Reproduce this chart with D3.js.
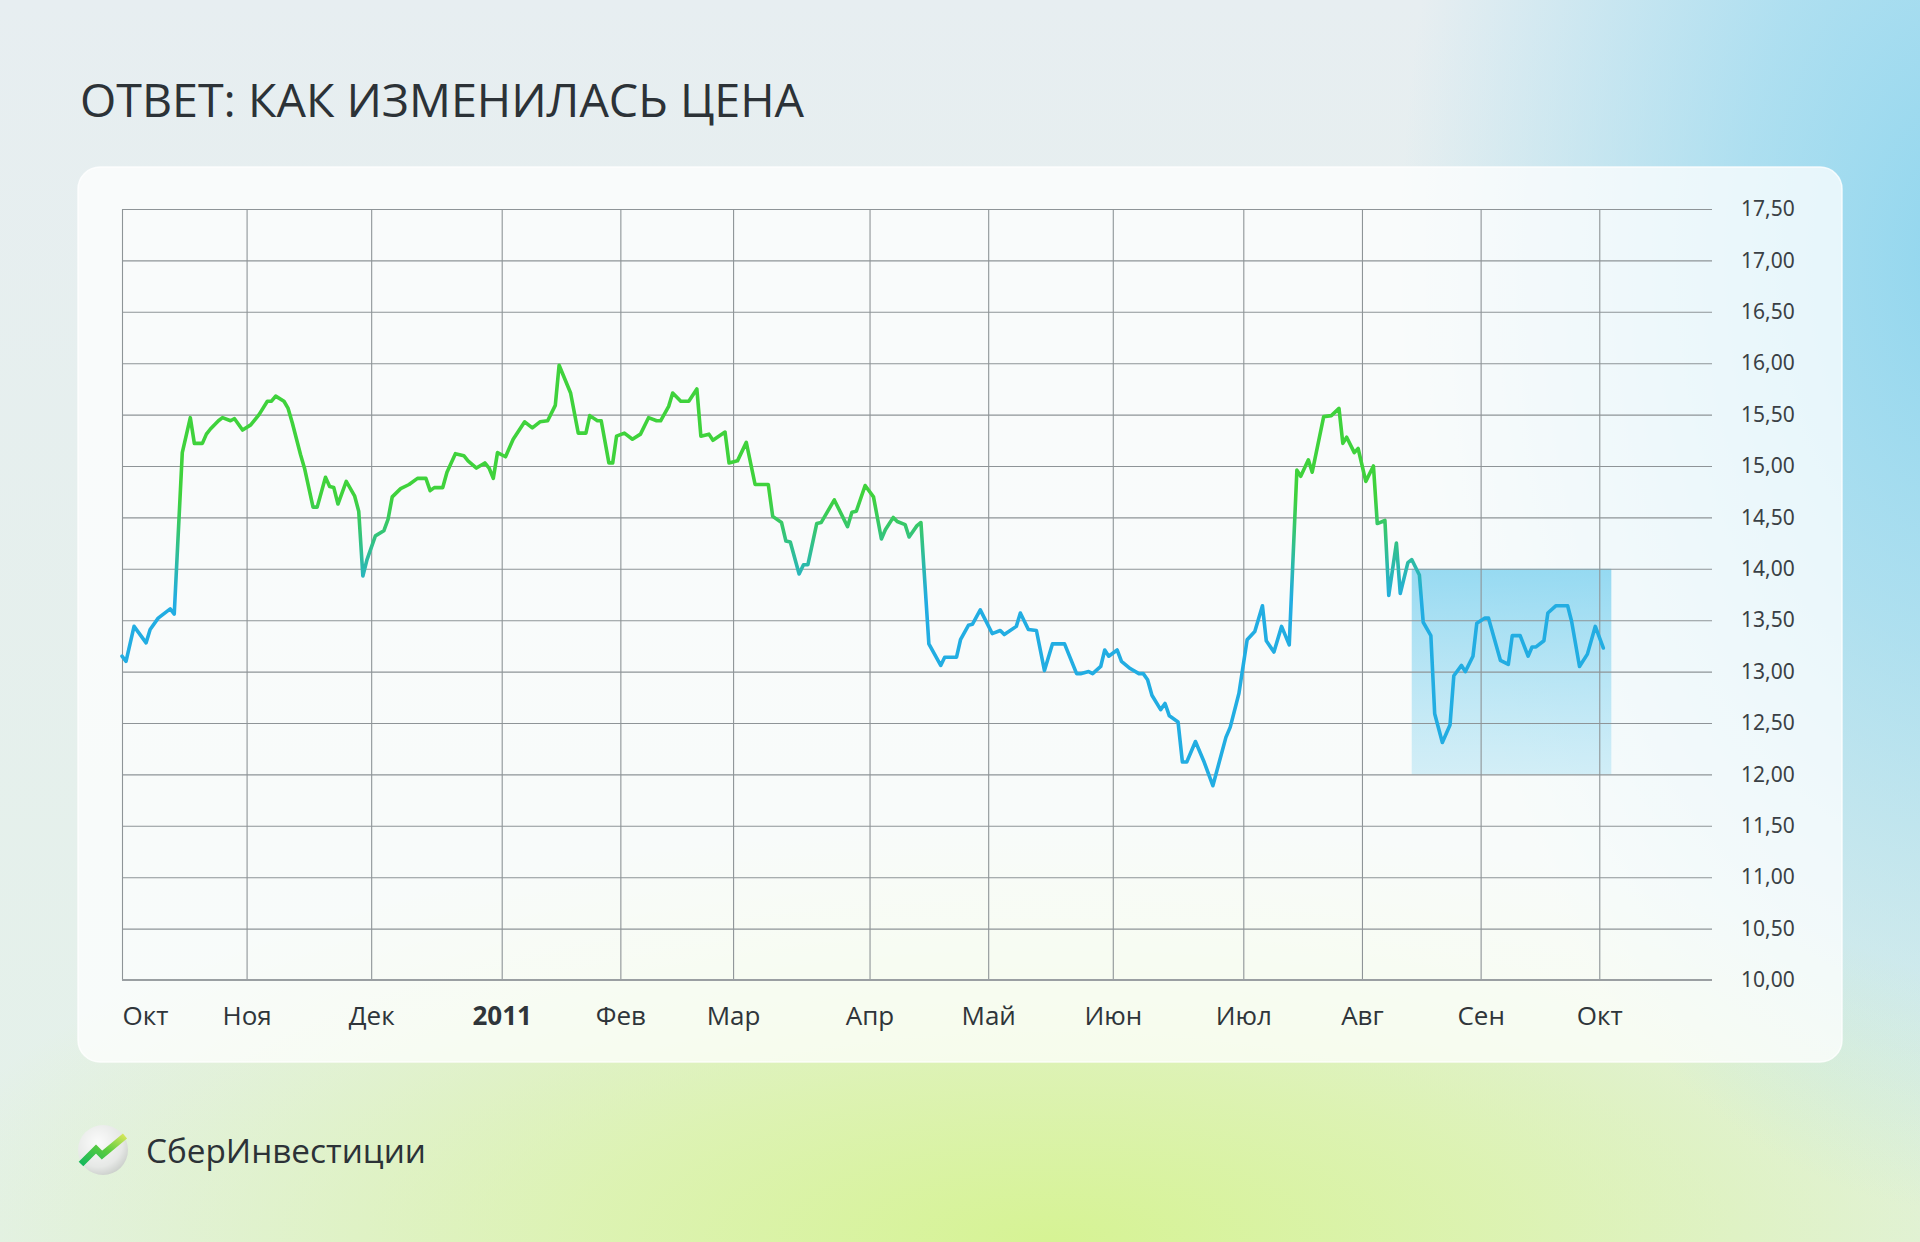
<!DOCTYPE html>
<html>
<head>
<meta charset="utf-8">
<script src="https://cdn.jsdelivr.net/npm/d3@7"></script>
<style>
html, body { margin: 0; padding: 0; width: 1920px; height: 1242px; overflow: hidden; }
body {
  background:
    radial-gradient(ellipse 560px 950px at 1960px 260px, rgba(145,214,238,1) 0%, rgba(155,218,240,0.75) 40%, rgba(170,225,240,0) 100%),
    radial-gradient(ellipse 1150px 420px at 1050px 1242px, rgba(214,243,148,1) 0%, rgba(218,243,160,0.75) 40%, rgba(220,243,170,0) 100%),
    linear-gradient(180deg, #e7eef1 0%, #e4f1e9 100%);
  font-family: "Open Sans", "Noto Sans", sans-serif;
}
svg { position: absolute; left: 0; top: 0; }
</style>
</head>
<body>
<svg id="chart" width="1920" height="1242"></svg>
<script>
// daily closes: [date, price]
var closes = [
  ["2010-10-01", 13.15], ["2010-10-02", 13.10], ["2010-10-04", 13.44], ["2010-10-07", 13.28],
  ["2010-10-08", 13.41], ["2010-10-10", 13.52], ["2010-10-13", 13.61], ["2010-10-14", 13.56],
  ["2010-10-16", 15.13], ["2010-10-18", 15.47], ["2010-10-19", 15.22], ["2010-10-21", 15.22],
  ["2010-10-22", 15.31], ["2010-10-23", 15.36], ["2010-10-25", 15.44], ["2010-10-26", 15.47],
  ["2010-10-28", 15.44], ["2010-10-29", 15.46], ["2010-10-31", 15.35], ["2010-11-02", 15.40],
  ["2010-11-04", 15.50], ["2010-11-06", 15.63], ["2010-11-07", 15.63], ["2010-11-08", 15.68],
  ["2010-11-10", 15.63], ["2010-11-11", 15.56], ["2010-11-12", 15.42], ["2010-11-14", 15.11],
  ["2010-11-15", 14.97], ["2010-11-17", 14.60], ["2010-11-18", 14.60], ["2010-11-20", 14.89],
  ["2010-11-21", 14.80], ["2010-11-22", 14.79], ["2010-11-23", 14.63], ["2010-11-25", 14.85],
  ["2010-11-27", 14.71], ["2010-11-28", 14.56], ["2010-11-29", 13.93], ["2010-11-30", 14.09],
  ["2010-12-02", 14.32], ["2010-12-04", 14.37], ["2010-12-05", 14.48], ["2010-12-06", 14.70],
  ["2010-12-08", 14.78], ["2010-12-10", 14.82], ["2010-12-12", 14.88], ["2010-12-14", 14.88],
  ["2010-12-15", 14.76], ["2010-12-16", 14.79], ["2010-12-18", 14.79], ["2010-12-19", 14.94],
  ["2010-12-21", 15.12], ["2010-12-23", 15.10], ["2010-12-24", 15.05], ["2010-12-26", 14.98],
  ["2010-12-28", 15.03], ["2010-12-29", 14.98], ["2010-12-30", 14.88], ["2010-12-31", 15.13],
  ["2011-01-02", 15.09], ["2011-01-04", 15.26], ["2011-01-07", 15.43], ["2011-01-09", 15.37],
  ["2011-01-11", 15.43], ["2011-01-13", 15.44], ["2011-01-15", 15.59], ["2011-01-16", 15.98],
  ["2011-01-19", 15.71], ["2011-01-21", 15.32], ["2011-01-23", 15.32], ["2011-01-24", 15.49],
  ["2011-01-26", 15.44], ["2011-01-27", 15.44], ["2011-01-29", 15.03], ["2011-01-30", 15.03],
  ["2011-01-31", 15.29], ["2011-02-02", 15.32], ["2011-02-04", 15.26], ["2011-02-06", 15.31],
  ["2011-02-08", 15.47], ["2011-02-10", 15.44], ["2011-02-11", 15.44], ["2011-02-13", 15.58],
  ["2011-02-14", 15.71], ["2011-02-16", 15.63], ["2011-02-18", 15.63], ["2011-02-20", 15.75],
  ["2011-02-21", 15.29], ["2011-02-23", 15.31], ["2011-02-24", 15.25], ["2011-02-27", 15.33],
  ["2011-02-28", 15.03], ["2011-03-02", 15.05], ["2011-03-04", 15.23], ["2011-03-06", 14.82],
  ["2011-03-09", 14.82], ["2011-03-10", 14.51], ["2011-03-12", 14.45], ["2011-03-13", 14.27],
  ["2011-03-14", 14.26], ["2011-03-16", 13.95], ["2011-03-17", 14.04], ["2011-03-18", 14.04],
  ["2011-03-20", 14.44], ["2011-03-21", 14.45], ["2011-03-24", 14.67], ["2011-03-27", 14.41],
  ["2011-03-28", 14.55], ["2011-03-29", 14.56], ["2011-03-31", 14.81], ["2011-04-02", 14.70],
  ["2011-04-04", 14.29], ["2011-04-05", 14.38], ["2011-04-07", 14.50], ["2011-04-08", 14.46],
  ["2011-04-10", 14.43], ["2011-04-11", 14.31], ["2011-04-13", 14.42], ["2011-04-14", 14.45],
  ["2011-04-16", 13.27], ["2011-04-19", 13.06], ["2011-04-20", 13.14], ["2011-04-23", 13.14],
  ["2011-04-24", 13.31], ["2011-04-26", 13.45], ["2011-04-27", 13.46], ["2011-04-29", 13.60],
  ["2011-05-02", 13.37], ["2011-05-04", 13.40], ["2011-05-05", 13.36], ["2011-05-08", 13.44],
  ["2011-05-09", 13.57], ["2011-05-11", 13.41], ["2011-05-13", 13.40], ["2011-05-15", 13.01],
  ["2011-05-17", 13.27], ["2011-05-20", 13.27], ["2011-05-23", 12.98], ["2011-05-24", 12.98],
  ["2011-05-26", 13.00], ["2011-05-27", 12.98], ["2011-05-29", 13.05], ["2011-05-30", 13.21],
  ["2011-05-31", 13.15], ["2011-06-02", 13.21], ["2011-06-03", 13.10], ["2011-06-05", 13.03],
  ["2011-06-07", 12.98], ["2011-06-08", 12.98], ["2011-06-09", 12.92], ["2011-06-10", 12.77],
  ["2011-06-12", 12.63], ["2011-06-13", 12.69], ["2011-06-14", 12.57], ["2011-06-16", 12.51],
  ["2011-06-17", 12.12], ["2011-06-18", 12.12], ["2011-06-20", 12.32], ["2011-06-22", 12.12],
  ["2011-06-24", 11.89], ["2011-06-27", 12.36], ["2011-06-28", 12.46], ["2011-06-30", 12.79],
  ["2011-07-02", 13.31], ["2011-07-04", 13.39], ["2011-07-06", 13.64], ["2011-07-07", 13.30],
  ["2011-07-09", 13.19], ["2011-07-11", 13.44], ["2011-07-13", 13.26], ["2011-07-15", 14.96],
  ["2011-07-16", 14.90], ["2011-07-18", 15.06], ["2011-07-19", 14.94], ["2011-07-22", 15.48],
  ["2011-07-24", 15.49], ["2011-07-26", 15.56], ["2011-07-27", 15.22], ["2011-07-28", 15.28],
  ["2011-07-30", 15.13], ["2011-07-31", 15.17], ["2011-08-02", 14.85], ["2011-08-04", 15.00],
  ["2011-08-05", 14.44], ["2011-08-07", 14.47], ["2011-08-08", 13.74], ["2011-08-10", 14.25],
  ["2011-08-11", 13.76], ["2011-08-13", 14.06], ["2011-08-14", 14.09], ["2011-08-16", 13.94],
  ["2011-08-17", 13.48], ["2011-08-19", 13.35], ["2011-08-20", 12.59], ["2011-08-22", 12.31],
  ["2011-08-24", 12.48], ["2011-08-25", 12.96], ["2011-08-27", 13.06], ["2011-08-28", 13.00],
  ["2011-08-30", 13.15], ["2011-08-31", 13.47], ["2011-09-02", 13.52], ["2011-09-03", 13.52],
  ["2011-09-06", 13.11], ["2011-09-08", 13.07], ["2011-09-09", 13.35], ["2011-09-11", 13.35],
  ["2011-09-13", 13.15], ["2011-09-14", 13.24], ["2011-09-15", 13.24], ["2011-09-17", 13.30],
  ["2011-09-18", 13.57], ["2011-09-20", 13.64], ["2011-09-23", 13.64], ["2011-09-24", 13.49],
  ["2011-09-26", 13.05], ["2011-09-28", 13.17], ["2011-09-30", 13.44], ["2011-10-02", 13.23]
];

// months on the axis and the trading sessions plotted in each (the axis runs on sessions)
var monthLabels = ["Окт", "Ноя", "Дек", "2011", "Фев", "Мар", "Апр", "Май", "Июн", "Июл", "Авг", "Сен", "Окт"];
var monthSessions = [21, 21, 22, 20, 19, 23, 20, 21, 22, 20, 20, 20, 21];
var totalSessions = 268;
var yTicks = [10, 10.5, 11, 11.5, 12, 12.5, 13, 13.5, 14, 14.5, 15, 15.5, 16, 16.5, 17, 17.5];
// shaded box: dates and price band
var boxDates = ["2011-08-14", "2011-10-04"];
var boxPrices = [12, 14];

var title = "ОТВЕТ: КАК ИЗМЕНИЛАСЬ ЦЕНА";
var brand = "СберИнвестиции";

var parse = d3.timeParse("%Y-%m-%d");
var data = closes.map(function (d) { return { date: parse(d[0]), price: d[1] }; });

var ru = d3.formatLocale({ decimal: ",", thousands: " ", grouping: [3], currency: ["", " ₽"] });
var fmt = ru.format(".2f");

var svg = d3.select("#chart");
var defs = svg.append("defs");

var plotLeft = 122, plotRight = 1712, plotTop = 209, plotBottom = 980;

// session index -> pixels, then month boundaries -> sessions
var s = d3.scaleLinear().domain([0, totalSessions]).range([plotLeft, plotRight]);
var monthEdges = d3.timeMonth.range(parse("2010-10-01"), parse("2011-11-02"));
var cum = [0];
monthSessions.forEach(function (n, i) { cum.push(cum[i] + n); });

var x = d3.scaleTime()
    .domain(monthEdges)
    .range(cum.map(s));
var y = d3.scaleLinear()
    .domain([10, 17.5])
    .range([plotBottom, plotTop]);

// panel
svg.append("rect")
    .attr("x", 78).attr("y", 167)
    .attr("width", 1764).attr("height", 895)
    .attr("rx", 22)
    .attr("fill", "rgba(255,255,255,0.74)")
    .attr("stroke", "rgba(255,255,255,0.8)")
    .attr("stroke-width", 1.5);

// title
svg.append("text")
    .attr("x", 80).attr("y", 117)
    .attr("font-family", "'Open Sans', 'Noto Sans', sans-serif")
    .attr("font-size", 46)
    .attr("fill", "#2c3237")
    .attr("textLength", 724)
    .attr("lengthAdjust", "spacingAndGlyphs")
    .text(title);

// highlight box
var boxGrad = defs.append("linearGradient")
    .attr("id", "boxGrad").attr("x1", 0).attr("y1", 0).attr("x2", 0).attr("y2", 1);
boxGrad.append("stop").attr("offset", "0%").attr("stop-color", "#5cc6ec").attr("stop-opacity", 0.62);
boxGrad.append("stop").attr("offset", "100%").attr("stop-color", "#8dd6f0").attr("stop-opacity", 0.35);

svg.append("rect")
    .attr("x", x(parse(boxDates[0])))
    .attr("y", y(boxPrices[1]))
    .attr("width", x(parse(boxDates[1])) - x(parse(boxDates[0])))
    .attr("height", y(boxPrices[0]) - y(boxPrices[1]))
    .attr("fill", "url(#boxGrad)");

// horizontal grid + price labels
var yAxis = d3.axisRight(y)
    .tickValues(yTicks)
    .tickSize(plotRight - plotLeft)
    .tickPadding(29)
    .tickFormat(fmt);

var gy = svg.append("g")
    .attr("transform", "translate(" + plotLeft + ",0)")
    .call(yAxis);
gy.select(".domain").remove();
gy.selectAll(".tick line")
    .attr("stroke", "#8e9497")
    .attr("stroke-width", 1.1);
gy.selectAll(".tick text")
    .attr("font-family", "'Noto Sans', sans-serif")
    .attr("font-size", 21)
    .attr("fill", "#3a4045");

// vertical grid + month labels
var months = monthEdges.slice(0, monthLabels.length);
var xAxis = d3.axisBottom(x)
    .tickValues(months)
    .tickSize(-(plotBottom - plotTop))
    .tickPadding(27)
    .tickFormat(function (d, i) { return monthLabels[i]; });

var gx = svg.append("g")
    .attr("transform", "translate(0," + plotBottom + ")")
    .call(xAxis);
gx.select(".domain").remove();
gx.selectAll(".tick line")
    .attr("stroke", "#8e9497")
    .attr("stroke-width", 1.1);
gx.selectAll(".tick text")
    .attr("font-family", "'Open Sans', 'Noto Sans', sans-serif")
    .attr("font-size", 26)
    .attr("fill", "#2f353a")
    .attr("font-weight", function (d, i) { return monthLabels[i] === "2011" ? 700 : 400; })
    .attr("text-anchor", function (d, i) { return i === 0 ? "start" : "middle"; });

// bottom baseline a touch heavier
svg.append("line")
    .attr("x1", plotLeft).attr("x2", plotRight)
    .attr("y1", y(10)).attr("y2", y(10))
    .attr("stroke", "#9a9fa2")
    .attr("stroke-width", 2);

// price line, green up high, blue down low
var lineGrad = defs.append("linearGradient")
    .attr("id", "lineGrad")
    .attr("gradientUnits", "userSpaceOnUse")
    .attr("x1", 0).attr("x2", 0)
    .attr("y1", y(14.7)).attr("y2", y(13.7));
lineGrad.append("stop").attr("offset", "0%").attr("stop-color", "#3fd23c");
lineGrad.append("stop").attr("offset", "100%").attr("stop-color", "#22ade2");

var line = d3.line()
    .x(function (d) { return x(d.date); })
    .y(function (d) { return y(d.price); });

svg.append("path")
    .datum(data)
    .attr("d", line)
    .attr("fill", "none")
    .attr("stroke", "url(#lineGrad)")
    .attr("stroke-width", 3.6)
    .attr("stroke-linejoin", "round")
    .attr("stroke-linecap", "round");

// brand logo
var ball = defs.append("radialGradient")
    .attr("id", "ball").attr("cx", "40%").attr("cy", "35%").attr("r", "70%");
ball.append("stop").attr("offset", "0%").attr("stop-color", "#fbfbfb");
ball.append("stop").attr("offset", "70%").attr("stop-color", "#e6e8e6");
ball.append("stop").attr("offset", "100%").attr("stop-color", "#c9cdc9");

var zig = defs.append("linearGradient")
    .attr("id", "zig").attr("x1", 0).attr("y1", 1).attr("x2", 1).attr("y2", 0);
zig.append("stop").attr("offset", "0%").attr("stop-color", "#13b85c");
zig.append("stop").attr("offset", "55%").attr("stop-color", "#5ccc3f");
zig.append("stop").attr("offset", "100%").attr("stop-color", "#d2e65a");

var logo = svg.append("g");
logo.append("circle")
    .attr("cx", 103).attr("cy", 1150).attr("r", 25)
    .attr("fill", "url(#ball)");
logo.append("polyline")
    .attr("points", "81,1164 96,1149 102,1155 125,1136")
    .attr("fill", "none")
    .attr("stroke", "url(#zig)")
    .attr("stroke-width", 6.5)
    .attr("stroke-linejoin", "miter");

svg.append("text")
    .attr("x", 146).attr("y", 1163)
    .attr("font-family", "'Open Sans', 'Noto Sans', sans-serif")
    .attr("font-size", 32)
    .attr("fill", "#2c3237")
    .attr("textLength", 280)
    .attr("lengthAdjust", "spacingAndGlyphs")
    .text(brand);
</script>
</body>
</html>
